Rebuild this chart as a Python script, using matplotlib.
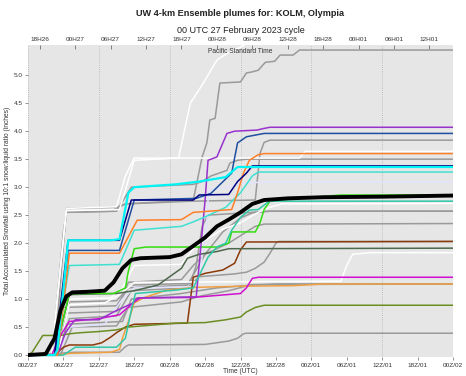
import matplotlib
matplotlib.use("Agg")
import matplotlib.pyplot as plt

plt.rcParams['font.family'] = ['Liberation Sans', 'DejaVu Sans']

# ---------------- axis labels / ticks ----------------
utc_ticks = [0, 6, 12, 18, 24, 30, 36, 42, 48, 54, 60, 66, 72]
utc_labels = ["00Z/27", "06Z/27", "12Z/27", "18Z/27", "00Z/28", "06Z/28", "12Z/28",
              "18Z/28", "00Z/01", "06Z/01", "12Z/01", "18Z/01", "00Z/02"]
pst_ticks = [2, 8, 14, 20, 26, 32, 38, 44, 50, 56, 62, 68]
pst_labels = ["18H26", "00H27", "06H27", "12H27", "18H27", "00H28", "06H28", "12H28",
              "18H28", "00H01", "06H01", "12H01"]
y_ticks = [0.0, 0.5, 1.0, 1.5, 2.0, 2.5, 3.0, 3.5, 4.0, 4.5, 5.0]
grid_hours = [0, 12, 24, 36, 48, 60, 72]

# ---------------- ensemble members (hours since 00Z/27, inches) ----------------
gray1_h = [0, 4, 4.5, 6, 6.5, 14, 16.5, 28, 29.5, 30.3, 30.8, 31.7, 32.5, 36, 37, 38, 39, 40.2, 41.8, 42.7, 44.9, 46, 72]
gray1_v = [0, 0, 0.5, 2.2, 2.55, 2.57, 2.7, 2.77, 3.54, 3.79, 4.2, 4.23, 4.86, 4.88, 5.04, 5.06, 5.09, 5.23, 5.25, 5.36, 5.36, 5.45, 5.45]
gray2_h = [0, 4.5, 6.5, 15, 16.5, 28, 38.5, 39.3, 40, 41, 72]
gray2_v = [0, 0, 2.62, 2.64, 2.7, 2.75, 2.77, 3.6, 3.8, 3.84, 3.84]
gray3_h = [0, 4, 6.5, 15, 17.5, 28, 29.5, 31, 33.7, 34.2, 35.5, 37, 72]
gray3_v = [0, 0, 2.55, 2.57, 3.0, 3.05, 3.1, 3.2, 3.3, 3.43, 3.48, 3.5, 3.5]
gray4_h = [0, 4.5, 6, 15, 17, 27, 30, 33, 36, 38, 41, 72]
gray4_v = [0, 0, 0.85, 0.88, 1.2, 1.25, 1.8, 2.2, 2.45, 2.54, 2.57, 2.57]
gray5_h = [0, 4.5, 6.5, 15, 17, 26, 28, 30, 34, 37, 38.5, 40, 72]
gray5_v = [0, 0, 0.75, 0.78, 1.3, 1.35, 1.6, 1.8, 2.0, 2.2, 2.3, 2.34, 2.35]
gray6_h = [0, 5, 7, 15, 17.5, 27, 29, 35, 37, 38.5, 40, 41, 42, 42.5, 72]
gray6_v = [0, 0, 0.65, 0.7, 1.15, 1.2, 1.4, 1.45, 1.48, 1.55, 1.66, 1.82, 2.0, 2.03, 2.03]
gray7_h = [0, 5, 6.5, 16, 17.5, 26, 32, 38, 42, 72]
gray7_v = [0, 0, 0.55, 0.6, 1.0, 1.1, 1.2, 1.25, 1.27, 1.27]
gray8_h = [0, 8, 15.5, 16.5, 17, 30, 34, 35.5, 36.5, 37, 72]
gray8_v = [0, 0.05, 0.05, 0.15, 0.18, 0.19, 0.25, 0.3, 0.38, 0.39, 0.39]
gray9_h = [0, 5, 7, 15, 17.5, 27.5, 28.5, 29.5, 30.5, 35, 38, 40, 72]
gray9_v = [0, 0, 0.95, 0.97, 1.25, 1.28, 1.6, 2.3, 2.5, 2.53, 2.55, 2.57, 2.57]
gray10_h = [0, 5.5, 7.5, 15, 17, 26, 29, 34, 38, 72]
gray10_v = [0, 0, 0.5, 0.52, 0.85, 0.95, 1.05, 1.15, 1.26, 1.27]

white1_h = [0, 4, 6.5, 15.5, 18, 25.5, 27.5, 29.7, 32, 33.7, 36, 37.6, 72]
white1_v = [0, 0, 2.58, 2.6, 3.48, 3.52, 4.5, 4.86, 5.27, 5.39, 5.5, 5.6, 5.65]
white2_h = [0, 4, 6.5, 15, 16.5, 18, 46, 47, 72]
white2_v = [0, 0, 2.62, 2.65, 3.2, 3.52, 3.52, 3.64, 3.64]
white3_h = [0, 4.5, 7, 14, 16, 18, 26, 28, 30, 33, 36, 37.5, 39, 41, 43, 72]
white3_v = [0, 0, 1.0, 1.02, 1.2, 1.6, 1.62, 1.9, 2.05, 2.25, 2.36, 2.46, 2.55, 2.64, 2.7, 2.71]
white4_h = [0, 5, 7, 13, 15, 17, 18, 53, 54, 55, 58, 72]
white4_v = [0, 0, 0.9, 0.93, 1.05, 1.2, 1.3, 1.32, 1.6, 1.8, 1.83, 1.83]

cyan_h = [0, 4.5, 5, 6.8, 14, 15.5, 17, 18, 25, 29, 33.5, 35.5, 72]
cyan_v = [0, 0, 0.1, 2.05, 2.05, 2.07, 2.9, 3.0, 3.05, 3.1, 3.18, 3.36, 3.36]
navy_h = [0, 4.5, 6.8, 15.5, 17.5, 28, 29, 34, 35.5, 37, 38, 72]
navy_v = [0, 0, 2.05, 2.05, 2.77, 2.77, 2.86, 2.87, 3.1, 3.25, 3.38, 3.38]
blue_h = [0, 4.5, 6.8, 15.5, 18, 28.5, 31, 34.5, 35.5, 37, 40, 72]
blue_v = [0, 0, 1.87, 1.87, 2.77, 2.8, 2.89, 3.25, 3.79, 3.9, 3.96, 3.96]
orange_h = [0, 5, 7, 15.5, 18.5, 26, 28, 34.5, 35.5, 36.5, 37.5, 39, 40, 72]
orange_v = [0, 0, 1.82, 1.82, 2.41, 2.42, 2.55, 2.6, 2.9, 3.25, 3.48, 3.58, 3.6, 3.6]
turq_h = [0, 4.5, 7, 15.5, 18, 26, 28, 30, 33.5, 36, 38, 39, 72]
turq_v = [0, 0, 1.6, 1.62, 2.23, 2.3, 2.38, 2.47, 2.64, 2.9, 3.2, 3.27, 3.27]
teal_h = [0, 6, 8, 15, 16.5, 17.5, 18.2, 25, 28, 30.5, 32, 33.5, 34.5, 36, 37.5, 39, 40.5, 41, 72]
teal_v = [0, 0, 0.14, 0.14, 0.3, 0.8, 1.1, 1.16, 1.2, 1.75, 1.93, 2.0, 2.23, 2.46, 2.59, 2.6, 2.72, 2.75, 2.75]
purple_h = [0, 5, 6.3, 7.5, 8, 12, 14.5, 17.8, 18.5, 28.5, 30, 30.5, 32, 33.7, 35, 38.8, 40, 41, 72]
purple_v = [0, 0, 0.39, 0.57, 0.63, 0.63, 0.77, 0.93, 1.02, 1.04, 2.77, 3.48, 3.54, 3.96, 4.0, 4.02, 4.05, 4.07, 4.07]
magenta_h = [0, 4, 5.5, 7, 12, 15.5, 18, 19, 28, 36, 37, 38, 39, 72]
magenta_v = [0, 0, 0.35, 0.6, 0.65, 0.72, 0.95, 1.02, 1.03, 1.1, 1.2, 1.37, 1.39, 1.39]
lime_h = [0, 4.5, 7, 14.5, 16.5, 17, 18, 20, 32, 34, 34.5, 38.5, 39.3, 40, 41, 46, 53, 72]
lime_v = [0, 0, 1.1, 1.1, 1.2, 1.5, 1.9, 1.93, 1.93, 2.0, 2.2, 2.2, 2.36, 2.6, 2.75, 2.8, 2.86, 2.86]
dkgreen_h = [0, 4.5, 7, 15, 18, 22, 26, 27, 29, 32, 34, 72]
dkgreen_v = [0, 0, 1.08, 1.1, 1.15, 1.25, 1.55, 1.73, 1.8, 1.85, 1.9, 1.91]
olive_h = [0, 0.7, 2.5, 5.5, 7, 9, 12, 15, 17, 25, 30, 33.5, 36, 37, 38.5, 40, 72]
olive_v = [0, 0.05, 0.35, 0.35, 0.38, 0.4, 0.42, 0.45, 0.5, 0.57, 0.58, 0.63, 0.68, 0.77, 0.85, 0.89, 0.89]
brown_h = [0, 4.5, 6, 7, 11, 12.5, 14, 15, 16.5, 18, 27, 27.5, 28, 30, 33, 35, 36, 37, 72]
brown_v = [0, 0, 0.14, 0.18, 0.18, 0.22, 0.32, 0.4, 0.5, 0.55, 0.57, 0.98, 1.39, 1.46, 1.52, 1.64, 1.88, 2.02, 2.03]
tan_h = [0, 5, 7, 14, 15.5, 16, 17, 18, 19.5, 23.5, 28.5, 36, 45, 50, 72]
tan_v = [0, 0, 0.03, 0.05, 0.1, 0.3, 0.6, 0.93, 1.02, 1.16, 1.21, 1.23, 1.24, 1.27, 1.27]
lav_h = [0, 5, 7, 13, 16, 18, 28.5, 29.5, 30.3, 30.6, 34, 36, 40, 72]
lav_v = [0, 0, 0.5, 0.55, 1.0, 1.2, 1.22, 1.75, 2.36, 2.95, 3.0, 3.07, 3.09, 3.09]

# ensemble mean
mean_h = [0, 3, 4.5, 5.5, 6.5, 7.5, 10, 13, 14.5, 16, 17.5, 19, 24, 26, 28, 30, 32, 34, 36, 38, 40, 44, 50, 60, 72]
mean_v = [0, 0.02, 0.3, 0.8, 1.05, 1.12, 1.13, 1.15, 1.3, 1.55, 1.7, 1.73, 1.75, 1.8, 1.95, 2.1, 2.3, 2.42, 2.55, 2.7, 2.77, 2.8, 2.82, 2.83, 2.85]

GRAY = "#9a9a9a"
members = [
    (GRAY, gray1_h, gray1_v), (GRAY, gray2_h, gray2_v),
    (GRAY, gray3_h, gray3_v), (GRAY, gray4_h, gray4_v),
    (GRAY, gray5_h, gray5_v), (GRAY, gray6_h, gray6_v),
    (GRAY, gray7_h, gray7_v), (GRAY, gray8_h, gray8_v),
    (GRAY, gray9_h, gray9_v), (GRAY, gray10_h, gray10_v),
    ("#ffffff", white1_h, white1_v), ("#ffffff", white2_h, white2_v),
    ("#ffffff", white3_h, white3_v), ("#ffffff", white4_h, white4_v),
    ("#e2e2ff", lav_h, lav_v), ("#f0a040", tan_h, tan_v),
    ("#8b3a0a", brown_h, brown_v), ("#6b8e23", olive_h, olive_v),
    ("#4d684d", dkgreen_h, dkgreen_v), ("#33dd11", lime_h, lime_v),
    ("#d010d0", magenta_h, magenta_v), ("#9932cc", purple_h, purple_v),
    ("#30c8a8", teal_h, teal_v), ("#40e0d0", turq_h, turq_v),
    ("#ff7f27", orange_h, orange_v), ("#1f4fa0", blue_h, blue_v),
    ("#000080", navy_h, navy_v), ("#00f4f4", cyan_h, cyan_v),
]

# ---------------- figure ----------------
fig = plt.figure(figsize=(4.66, 3.76), dpi=100)
ax = fig.add_axes([0.0601, 0.0505, 0.912, 0.8298])
ax.set_facecolor("#e6e6e6")
for s in ax.spines.values():
    s.set_visible(False)

for g in grid_hours:
    ax.axvline(g, color="#b4b4b4", lw=0.6, ls=(0, (1, 1.5)), zorder=1)

for i, (c, h, v) in enumerate(members):
    lw = 1.6 if c == "#00f4f4" else 1.1
    ax.plot(h, v, color=c, lw=lw, zorder=2 + i * 0.01, solid_joinstyle="round")

ax.plot(mean_h, mean_v, color="black", lw=2.8, zorder=5, solid_joinstyle="round")

ax.set_xlim(0, 72)
ax.set_ylim(-0.035, 5.54)
ax.set_xticks(utc_ticks)
ax.set_xticklabels(utc_labels, fontsize=4.6)
ax.set_yticks(y_ticks)
ax.set_yticklabels([f"{t:.1f}" for t in y_ticks], fontsize=4.6)
ax.tick_params(axis="both", length=2.5, width=0.5, color="#666666", pad=1.5, labelcolor="#333333")
ax.set_xlabel("Time (UTC)", fontsize=4.8, labelpad=0.5, color="#333333")
ax.set_ylabel("Total Accumulated Snowfall using 10:1 snow:liquid ratio (inches)",
              fontsize=4.8, labelpad=1, color="#333333")
ax.yaxis.set_label_coords(-0.04, 0.5)

top = ax.secondary_xaxis("top")
top.set_xticks(pst_ticks)
top.set_xticklabels(pst_labels, fontsize=4.6, color="#333333")
top.tick_params(direction="in", length=3, width=0.5, color="#555555", pad=2)
for s in top.spines.values():
    s.set_visible(False)

ax.text(0.5, 0.992, "Pacific Standard Time", transform=ax.transAxes, ha="center", va="top",
        fontsize=4.8, color="#333333", zorder=6)

fig.text(0.516, 0.965, "UW 4-km Ensemble plumes for: KOLM, Olympia", ha="center", va="center",
         fontsize=6.6, fontweight="bold", color="#222222")
fig.text(0.516, 0.92, "00 UTC 27 February 2023 cycle", ha="center", va="center",
         fontsize=6.5, color="#222222")

fig.savefig("out.png", dpi=100)
